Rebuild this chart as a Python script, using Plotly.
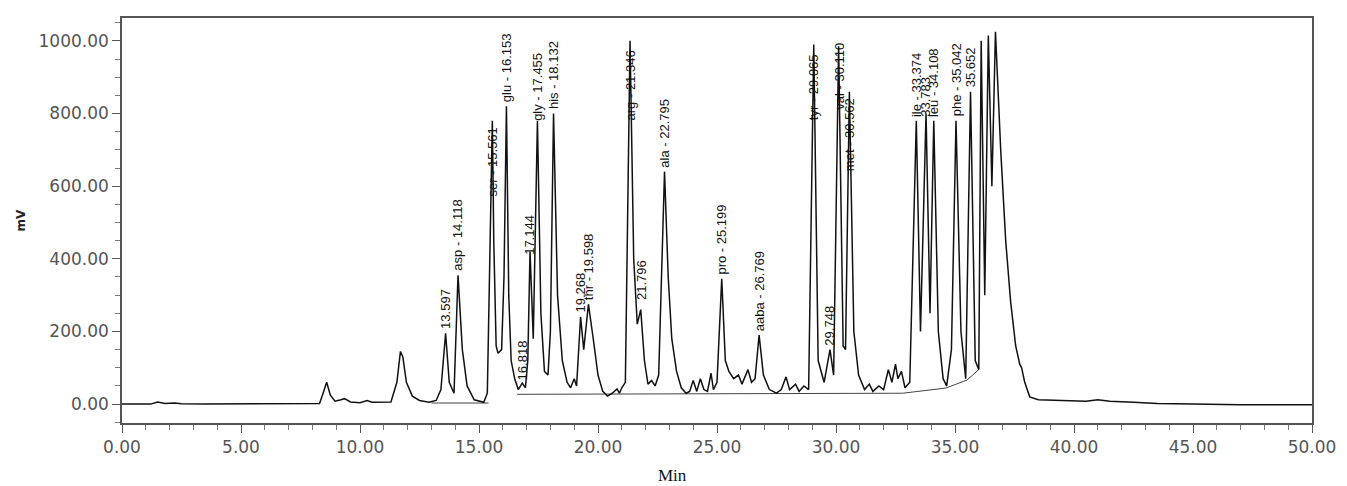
import plotly.graph_objects as go

# ---------------- data ----------------
# detector trace: retention time (min) and signal (mV)
trace_min = [
    0.0, 1.2, 1.5, 1.8, 2.2, 2.5, 3.5, 5.0, 6.0, 7.0, 8.3, 8.45, 8.6, 8.75, 8.95,
    9.2, 9.35, 9.6, 10.0, 10.3, 10.5, 11.3, 11.55, 11.7, 11.8, 11.95, 12.2, 12.5,
    12.9, 13.2, 13.4, 13.597, 13.75, 13.95, 14.118, 14.3, 14.5, 14.8, 15.2,
    15.35, 15.5, 15.561, 15.62, 15.72, 15.8, 15.95, 16.05, 16.153, 16.25, 16.35,
    16.5, 16.65, 16.818, 16.95, 17.05, 17.144, 17.28, 17.455, 17.6, 17.75, 17.9,
    18.0, 18.132, 18.3, 18.5, 18.7, 18.85, 19.0, 19.1, 19.268, 19.4, 19.598,
    19.8, 20.0, 20.2, 20.4, 20.6, 20.8, 20.9, 21.0, 21.15, 21.346, 21.5, 21.65,
    21.796, 21.95, 22.1, 22.25, 22.4, 22.55, 22.795, 22.95, 23.1, 23.3, 23.5,
    23.7, 23.85, 24.0, 24.15, 24.3, 24.45, 24.6, 24.75, 24.85, 25.0, 25.199,
    25.35, 25.5, 25.7, 25.9, 26.05, 26.3, 26.45, 26.6, 26.769, 26.95, 27.2,
    27.5, 27.7, 27.9, 28.05, 28.3, 28.45, 28.65, 28.85, 29.065, 29.25, 29.5,
    29.748, 29.9, 30.110, 30.3, 30.4, 30.562, 30.75, 30.95, 31.2, 31.4, 31.55,
    31.8, 32.0, 32.2, 32.35, 32.5, 32.6, 32.75, 32.9, 33.1, 33.374, 33.55,
    33.783, 33.95, 34.108, 34.3, 34.5, 34.65, 34.85, 35.042, 35.25, 35.45,
    35.652, 35.85, 36.0, 36.1, 36.25, 36.4, 36.55, 36.7, 36.92, 37.13, 37.34,
    37.55, 37.72, 37.8, 37.93, 38.14, 38.5, 39.5, 40.5, 41.0, 41.5, 42.5, 43.5,
    45.0, 47.0, 50.0,
]
trace_mv = [
    0, 0, 6, 2, 3, 1, 0, 1, 0, 1, 2, 30, 60, 25, 8,
    12, 15, 6, 4, 10, 5, 6, 60, 145, 130, 60, 22, 10,
    5, 10, 40, 195, 60, 30, 355, 150, 50, 12, 5,
    30, 500, 780, 450, 160, 140, 150, 350, 820, 300, 120,
    70, 40, 58, 45, 120, 420, 180, 780, 250, 90, 80,
    200, 800, 300, 120, 60, 45, 70, 50, 240, 150, 275,
    180, 80, 35, 22, 30, 42, 30, 45, 60, 1000, 400, 220,
    260, 120, 55, 65, 50, 80, 640, 350, 180, 90, 45,
    30, 35, 65, 35, 70, 40, 35, 85, 40, 60, 345,
    120, 90, 70, 80, 55, 95, 60, 70, 190, 80, 40,
    30, 40, 75, 40, 55, 35, 50, 40, 990, 120, 60,
    150, 80, 985, 160, 150, 860, 200, 80, 40, 55, 35,
    50, 40, 95, 60, 110, 70, 90, 45, 60, 780, 200,
    800, 250, 780, 200, 70, 50, 150, 780, 200, 70,
    860, 120, 95, 1000, 300, 1015, 600, 1025, 700, 450, 280,
    160, 110, 100, 60, 20, 12, 10, 8, 12, 8, 5, 2,
    0, -2, -2,
]

# integration baselines drawn by the data system
baseline_min = [13.0, 15.4, None, 16.6, 32.8, 34.6, 35.5, 36.0]
baseline_mv = [3, 3, None, 27, 30, 44, 66, 95]

# peak labels
peak_min = [13.597, 14.118, 15.561, 16.153, 16.818, 17.144, 17.455, 18.132,
            19.268, 19.598, 21.346, 21.796, 22.795, 25.199, 26.769, 29.065,
            29.748, 30.110, 30.562, 33.374, 33.783, 34.108, 35.042, 35.652]
peak_text = ["13.597", "asp - 14.118", "ser - 15.561", "glu - 16.153", "16.818",
             "17.144", "gly - 17.455", "his - 18.132", "19.268", "thr - 19.598",
             "arg - 21.346", "21.796", "ala - 22.795", "pro - 25.199",
             "aaba - 26.769", "tyr - 29.065", "29.748", "val - 30.110",
             "met - 30.562", "ile - 33.374", "33.783", "leu - 34.108",
             "phe - 35.042", "35.652"]

y_ticks = [0, 200, 400, 600, 800, 1000]
x_ticks = [0, 5, 10, 15, 20, 25, 30, 35, 40, 45, 50]

# ---------------- styling / placement ----------------
label_base_mv = [195, 355, 560, 820, 55, 400, 770, 800, 240, 275, 770, 275, 640,
                 345, 190, 770, 150, 800, 630, 780, 780, 780, 780, 860]

tick_font = dict(family="DejaVu Sans", size=17, color="#555555")
label_font = dict(family="Liberation Sans Narrow, Liberation Sans, Arial", size=13,
                  color="#111111")

fig = go.Figure()
fig.add_trace(go.Scatter(x=baseline_min, y=baseline_mv, mode="lines",
                         line=dict(color="#444444", width=1), hoverinfo="skip",
                         showlegend=False, connectgaps=False))
fig.add_trace(go.Scatter(x=trace_min, y=trace_mv, mode="lines",
                         line=dict(color="#111111", width=1.5),
                         showlegend=False))

for t, txt, b in zip(peak_min, peak_text, label_base_mv):
    fig.add_annotation(x=t, y=b, text=txt, textangle=-90, showarrow=False,
                       xanchor="center", yanchor="bottom", yshift=2,
                       font=label_font)

fig.add_annotation(text="<b>mV</b>", xref="paper", yref="paper", x=0, y=0.5,
                   xanchor="center", yanchor="middle", xshift=-102,
                   textangle=-90, showarrow=False,
                   font=dict(family="DejaVu Sans", size=12, color="#222222"))
fig.add_annotation(text="Min", xref="paper", yref="paper", x=0.463, y=0,
                   xanchor="center", yanchor="middle", yshift=-52,
                   showarrow=False,
                   font=dict(family="Liberation Serif", size=17, color="#111111"))

fig.update_xaxes(range=[0, 50], tickvals=x_ticks, tickformat=".2f",
                 ticks="outside", ticklen=8, tickwidth=1.2, tickcolor="#555555",
                 minor=dict(dtick=1, ticks="outside", ticklen=5,
                            tickcolor="#777777"),
                 showgrid=False, zeroline=False, showline=True,
                 linecolor="#555555", linewidth=1.5, mirror=True,
                 tickfont=tick_font)
fig.update_yaxes(range=[-52, 1063], tickvals=y_ticks, tickformat=".2f",
                 ticks="outside", ticklen=8, tickwidth=1.2, tickcolor="#555555",
                 minor=dict(dtick=50, ticks="outside", ticklen=5,
                            tickcolor="#777777"),
                 showgrid=False, zeroline=False, showline=True,
                 linecolor="#555555", linewidth=1.5, mirror=True,
                 tickfont=tick_font)

# the page adds an 8 px body margin; size the figure to fill the window
fig.update_layout(width=1339, height=478, plot_bgcolor="white",
                  paper_bgcolor="white",
                  margin=dict(l=114, r=35, t=8, b=63))

fig.write_html("out.html")
